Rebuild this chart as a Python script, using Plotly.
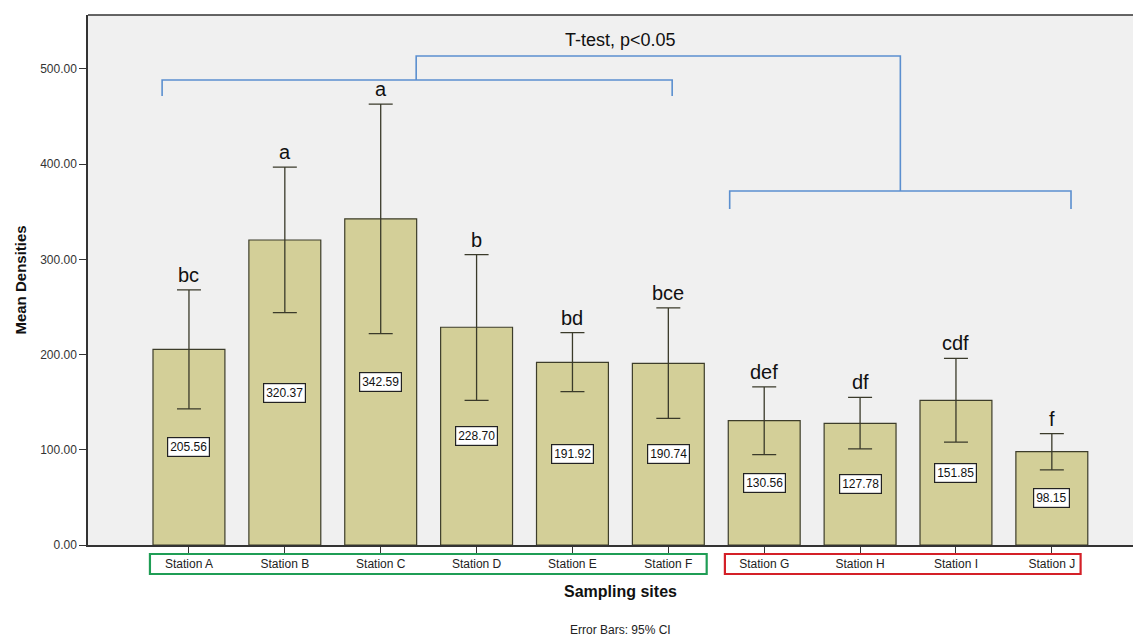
import plotly.graph_objects as go

stations = ["Station A", "Station B", "Station C", "Station D", "Station E",
            "Station F", "Station G", "Station H", "Station I", "Station J"]
means = [205.56, 320.37, 342.59, 228.70, 191.92, 190.74, 130.56, 127.78, 151.85, 98.15]
ci_upper = [268, 397, 463, 305, 223, 249, 166, 155, 196, 117]
ci_lower = [143, 244, 222, 152, 161, 133, 95, 101, 108, 79]
letters = ["bc", "a", "a", "b", "bd", "bce", "def", "df", "cdf", "f"]
y_ticks = [0, 100, 200, 300, 400, 500]

xs = list(range(len(stations)))
err_plus = [u - m for u, m in zip(ci_upper, means)]
err_minus = [m - l for m, l in zip(means, ci_lower)]

FONT = "Liberation Sans, Arial, sans-serif"
BLUE = "#5b8fcf"

fig = go.Figure()
fig.add_trace(go.Bar(
    x=xs, y=means, width=0.75,
    marker=dict(color="#d3cf98", line=dict(color="#3d3d2a", width=1.2)),
    error_y=dict(type="data", array=err_plus, arrayminus=err_minus,
                 color="#3a3a2a", thickness=1.3, width=12),
    hoverinfo="skip",
))

annotations = []
for x, m, u, lt in zip(xs, means, ci_upper, letters):
    annotations.append(dict(x=x, y=m / 2, xref="x", yref="y", text=f"{m:.2f}",
                            showarrow=False, font=dict(family=FONT, size=12, color="#111"),
                            bgcolor="white", bordercolor="#222", borderwidth=1.2, borderpad=2))
    annotations.append(dict(x=x, y=u, xref="x", yref="y", text=lt, yanchor="bottom",
                            yshift=2, showarrow=False,
                            font=dict(family=FONT, size=20, color="#111")))

annotations += [
    dict(x=4.5, y=530, xref="x", yref="y", text="T-test, p<0.05", showarrow=False,
         yanchor="middle", font=dict(family=FONT, size=18, color="#111")),
    dict(x=4.5, y=-0.088, xref="x", yref="paper", text="<b>Sampling sites</b>",
         yanchor="middle", showarrow=False, font=dict(family=FONT, size=16, color="#111")),
    dict(x=4.5, y=-0.16, xref="x", yref="paper", text="Error Bars: 95% CI",
         yanchor="middle", showarrow=False, font=dict(family=FONT, size=12, color="#222")),
    dict(x=-0.065, y=0.5, xref="paper", yref="paper", text="<b>Mean Densities</b>",
         xanchor="center", yanchor="middle",
         textangle=-90, showarrow=False, font=dict(family=FONT, size=15, color="#111")),
]

line = dict(color=BLUE, width=1.6)
shapes = [
    # top border
    dict(type="line", xref="paper", yref="paper", x0=0, x1=1, y0=1, y1=1,
         line=dict(color="#333", width=1.5)),
    # left bracket
    dict(type="path", xref="x", yref="y",
         path="M -0.28 471.6 L -0.28 488.4 L 5.04 488.4 L 5.04 471.6", line=line),
    # right bracket
    dict(type="path", xref="x", yref="y",
         path="M 5.64 353 L 5.64 371.8 L 9.20 371.8 L 9.20 353", line=line),
    # connector
    dict(type="path", xref="x", yref="y",
         path="M 2.37 488.4 L 2.37 513.7 L 7.42 513.7 L 7.42 371.8", line=line),
    # group boxes around tick labels
    dict(type="rect", xref="x", yref="paper", x0=-0.407, x1=5.40, y0=-0.017, y1=-0.0547,
         line=dict(color="#1f9d55", width=2.2)),
    dict(type="rect", xref="x", yref="paper", x0=5.59, x1=9.30, y0=-0.017, y1=-0.0547,
         line=dict(color="#d42028", width=2.2)),
]

fig.update_layout(
    width=1133, height=631,
    margin=dict(l=80, r=0, t=7, b=94),
    paper_bgcolor="white", plot_bgcolor="#f0f0f0",
    showlegend=False,
    annotations=annotations, shapes=shapes,
    xaxis=dict(range=[-1.053, 9.93], tickvals=xs, ticktext=stations,
               showgrid=False, zeroline=False, showline=True, linecolor="#333", linewidth=1.5,
               ticks="outside", ticklen=7, tickcolor="#333",
               tickfont=dict(family=FONT, size=12, color="#222")),
    yaxis=dict(range=[0, 556.7], tickvals=y_ticks, tickformat=".2f",
               showgrid=False, zeroline=False, showline=True, linecolor="#333", linewidth=1.5,
               ticks="outside", ticklen=7, tickcolor="#333",
               tickfont=dict(family=FONT, size=12, color="#333")),
)

fig.write_html("out.html")
